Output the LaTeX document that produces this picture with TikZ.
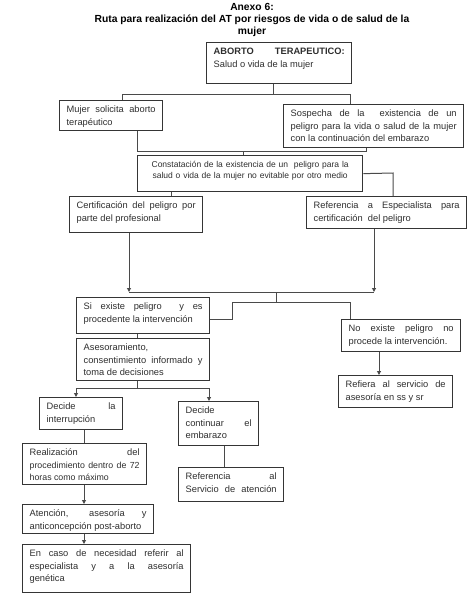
\documentclass[tikz,border=0pt]{standalone}
\usepackage{fontspec}
\setmainfont{Liberation Sans}
\usetikzlibrary{arrows.meta, calc}
\definecolor{ink}{HTML}{2E2E2E}
\definecolor{frame}{HTML}{353535}
\definecolor{wire}{HTML}{4A4A4A}
\hyphenpenalty=10000
\exhyphenpenalty=10000

\begin{document}
\begin{tikzpicture}[x=1pt, y=-1pt,
    every node/.style={font=\fontsize{9.3}{12.5}\selectfont, text=ink},
    step box/.style={draw=frame, line width=1.3pt, anchor=north west, align=justify,
        inner xsep=7pt, inner ysep=3pt, text height=9pt, text depth=#1},
    title/.style={font=\bfseries\fontsize{10.3}{12}\selectfont, text=black, align=center},
    wire/.style={draw=wire, line width=1pt},
    arrow/.style={wire, -{Triangle[length=4pt, width=4pt]}},
]

\useasboundingbox (0,0) rectangle (472,603);

% heading
\node[title] (head) at (252,19.5)
    {Anexo 6:\\ Ruta para realización del AT por riesgos de vida o de salud de la\\ mujer};

% top of the route
\node[step box=26pt, text width=131pt] (aborto) at (206,42)
    {\textbf{ABORTO TERAPEUTICO:}\linebreak Salud o vida de la mujer};
\node[step box=15pt, text width=89pt] (solicita) at (59,100)
    {Mujer solicita aborto\linebreak terapéutico};
\node[step box=28pt, text width=166pt] (sospecha) at (283,104)
    {Sospecha de la\ \ existencia de un\linebreak peligro para la vida o salud de la mujer\linebreak con la continuación del embarazo};
\node[step box=21pt, text width=215pt, inner xsep=5pt, align=center,
      font=\fontsize{8.5}{11.3}\selectfont] (constata) at (137,155)
    {Constatación de la existencia de un\ \ peligro para la\\ salud o vida de la mujer no evitable por otro medio};

% certification
\node[step box=21pt, text width=119pt] (certifica) at (69,196)
    {Certificación del peligro por\linebreak parte del profesional};
\node[step box=17pt, text width=146pt] (especialista) at (306,196)
    {Referencia a Especialista para\linebreak certificación\ \ del peligro};

% outcome of the certification
\node[step box=21pt, text width=119pt] (existe) at (76,297)
    {Si existe peligro\ \ y es\linebreak procedente la intervención};
\node[step box=17pt, text width=105pt] (noexiste) at (341,319)
    {No existe peligro no\linebreak procede la intervención.};
\node[step box=27pt, text width=119pt] (asesora) at (76,338)
    {Asesoramiento,\\ consentimiento informado y\linebreak toma de decisiones};
\node[step box=17pt, text width=100pt] (refiera) at (338,375)
    {Refiera al servicio de\linebreak asesoría en ss y sr};

% the two decisions
\node[step box=17pt, text width=69pt] (interrumpe) at (39,397)
    {Decide la\linebreak interrupción};
\node[step box=29pt, text width=66pt] (continua) at (178,401)
    {Decide\\ continuar el\linebreak embarazo};
\node[step box=26pt, text width=110pt] (realiza) at (22,443)
    {Realización del\linebreak {\fontsize{8.8}{12}\selectfont procedimiento dentro de 72\linebreak horas como máximo}};
\node[step box=19pt, text width=91pt] (servicio) at (178,467)
    {Referencia al\linebreak Servicio\hfill de\hfill atención};
\node[step box=14pt, text width=117pt] (postaborto) at (22,504)
    {Atención, asesoría y\linebreak anticoncepción post-aborto};
\node[step box=33pt, text width=154pt] (genetica) at (22,544)
    {En caso de necesidad referir al\linebreak especialista y a la asesoría\linebreak genética};

% junction points
\coordinate (j1) at (273,94);
\coordinate (j1l) at (122,94);
\coordinate (j1r) at (350,94);
\coordinate (j2) at (243,151);
\coordinate (j2l) at (137,151);
\coordinate (j2r) at (366,151);
\coordinate (j3) at (171,194);
\coordinate (j4) at (393,173);
\coordinate (j5) at (276,292);
\coordinate (j5l) at (129,292);
\coordinate (j5r) at (374,292);
\coordinate (j6) at (276,302);
\coordinate (j6l) at (232,302);
\coordinate (j6r) at (350,302);
\coordinate (j7) at (232,319);
\coordinate (j8) at (137,335);
\coordinate (j9) at (137,388);
\coordinate (j9l) at (76,388);
\coordinate (j9r) at (209,388);
\coordinate (j10) at (379,360);
\coordinate (j11) at (84,436);
\coordinate (j12) at (224,455);

% connectors
\draw[wire] (j1 |- aborto.south) -- (j1);
\draw[wire] (j1l |- solicita.north) -- (j1l) -- (j1r) -- (j1r |- sospecha.north);
\draw[wire] (j2l |- solicita.south) -- (j2l) -- (j2r) -- (j2r |- sospecha.south);
\draw[wire] (j2) -- (j2 |- constata.north);
\draw[wire] (j3 |- constata.south) -- (j3 |- certifica.north);
\draw[wire] (constata.east) -- (j4) -- (j4 |- especialista.north);
\draw[arrow] (j5l |- certifica.south) -- (j5l);
\draw[arrow] (j5r |- especialista.south) -- (j5r);
\draw[wire] (j5l) -- (j5r);
\draw[wire] (j5) -- (j6);
\draw[wire] (existe.east |- j7) -- (j7) -- (j6l) -- (j6r) -- (j6r |- noexiste.north);
\draw[wire] (j8 |- existe.south) -- (j8 |- asesora.north);
\draw[arrow] (j10 |- noexiste.south) -- (j10 |- refiera.north);
\draw[wire] (j9 |- asesora.south) -- (j9);
\draw[wire] (j9l) -- (j9r);
\draw[arrow] (j9l) -- (j9l |- interrumpe.north);
\draw[arrow] (j9r) -- (j9r |- continua.north);
\draw[wire] (j11 |- interrumpe.south) -- (j11 |- realiza.north);
\draw[wire] (j12 |- continua.south) -- (j12 |- servicio.north);
\draw[arrow] (j11 |- realiza.south) -- (j11 |- postaborto.north);
\draw[arrow] (j11 |- postaborto.south) -- (j11 |- genetica.north);

\end{tikzpicture}
\end{document}
